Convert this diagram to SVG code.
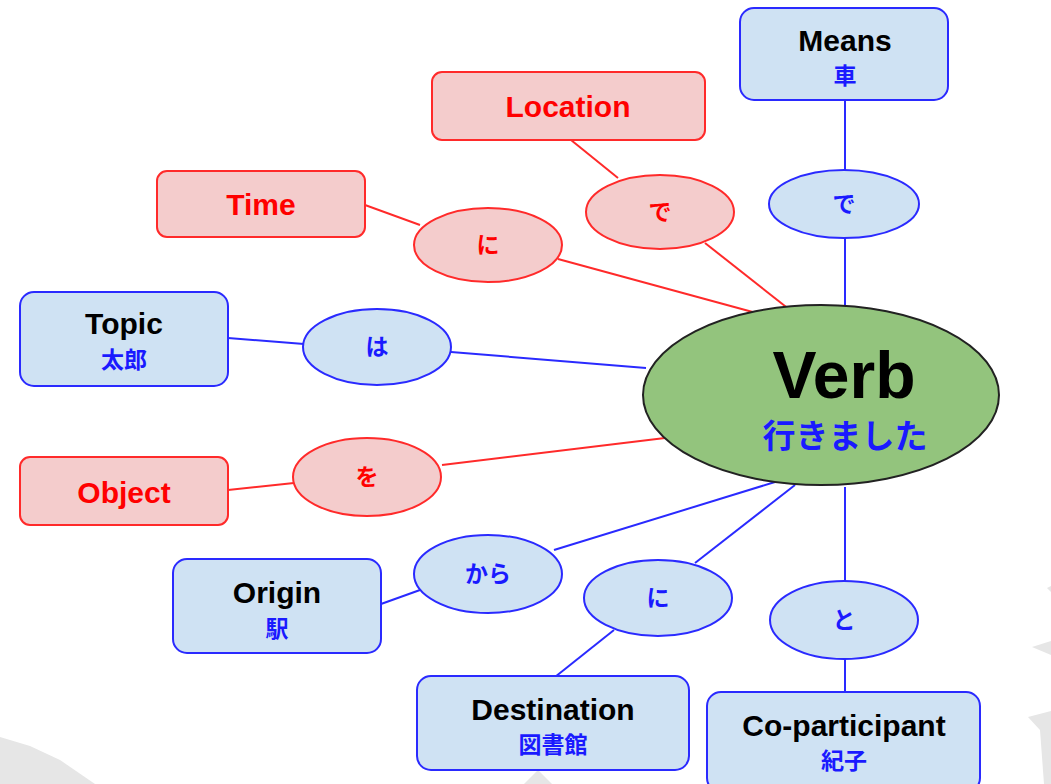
<svg xmlns="http://www.w3.org/2000/svg" width="1051" height="784" viewBox="0 0 1051 784">
  <style>
    .bbox { fill: #cfe2f3; stroke: #2a2aff; stroke-width: 2; }
    .rbox { fill: #f4cccc; stroke: #ff2a2a; stroke-width: 2; }
    .bline { stroke: #2a2aff; stroke-width: 2; fill: none; }
    .rline { stroke: #ff2a2a; stroke-width: 2; fill: none; }
    .title { font-family: "Liberation Sans", Arial, sans-serif; font-weight: bold; font-size: 30px; text-anchor: middle; fill: #000; }
    .rtitle { font-family: "Liberation Sans", Arial, sans-serif; font-weight: bold; font-size: 30px; text-anchor: middle; fill: #ff0000; }
    .jp { font-family: "Liberation Sans", "Noto Sans CJK JP", sans-serif; font-weight: bold; font-size: 23px; text-anchor: middle; fill: #1a1aff; }
    .rjp { font-family: "Liberation Sans", "Noto Sans CJK JP", sans-serif; font-weight: bold; font-size: 23px; text-anchor: middle; fill: #ff0000; }
    .wm { fill: #e6e6e6; }
  </style>

  <rect width="1051" height="784" fill="#ffffff"/>

  <!-- faint background shapes -->
  <g id="background">
    <polygon class="wm" points="0,737 30,746 60,760 95,784 0,784"/>
    <polygon class="wm" points="524,784 538,770 552,784"/>
    <polygon class="wm" points="1047,588 1051,586 1051,592"/>
    <polygon class="wm" points="1032,647 1051,641 1051,655"/>
    <polygon class="wm" points="1028,717 1051,711 1051,784 1044,784 1040,730"/>
  </g>

  <!-- connectors -->
  <g id="connectors">
    <line class="bline" x1="845" y1="100" x2="845" y2="170"/>
    <line class="bline" x1="845" y1="238" x2="845" y2="305"/>
    <line class="rline" x1="571" y1="140" x2="618" y2="178"/>
    <line class="rline" x1="705" y1="243" x2="790" y2="310"/>
    <line class="rline" x1="365" y1="205" x2="420" y2="225"/>
    <line class="rline" x1="558" y1="259" x2="760" y2="314"/>
    <line class="bline" x1="228" y1="338" x2="304" y2="344"/>
    <line class="bline" x1="451" y1="352" x2="646" y2="368"/>
    <line class="rline" x1="228" y1="490" x2="294" y2="483"/>
    <line class="rline" x1="442" y1="465" x2="665" y2="438"/>
    <line class="bline" x1="381" y1="604" x2="420" y2="590"/>
    <line class="bline" x1="554" y1="550" x2="775" y2="482"/>
    <line class="bline" x1="695" y1="563" x2="795" y2="485"/>
    <line class="bline" x1="614" y1="630" x2="555" y2="677"/>
    <line class="bline" x1="845" y1="487" x2="845" y2="581"/>
    <line class="bline" x1="845" y1="659" x2="845" y2="692"/>
  </g>

  <!-- central verb -->
  <g id="verb">
    <ellipse cx="821" cy="395" rx="178" ry="90" fill="#93c47d" stroke="#222" stroke-width="2"/>
    <text x="844" y="398" font-family="Liberation Sans, Arial, sans-serif" font-weight="bold" font-size="66" text-anchor="middle" fill="#000">Verb</text>
    <text x="845" y="448" font-family="Liberation Sans, Noto Sans CJK JP, sans-serif" font-weight="bold" font-size="33" text-anchor="middle" fill="#1a1aff">行きました</text>
  </g>

  <!-- Means / で -->
  <g id="means">
    <rect class="bbox" x="740" y="8" width="208" height="92" rx="14"/>
    <text class="title" x="845" y="51">Means</text>
    <text class="jp" x="845" y="84">車</text>
  </g>
  <g id="p-de-means">
    <ellipse class="bbox" cx="844" cy="204" rx="75" ry="34"/>
    <text class="jp" x="844" y="212">で</text>
  </g>

  <!-- Location / で -->
  <g id="location">
    <rect class="rbox" x="432" y="72" width="273" height="68" rx="10"/>
    <text class="rtitle" x="568" y="117">Location</text>
  </g>
  <g id="p-de-location">
    <ellipse class="rbox" cx="660" cy="212" rx="74" ry="37"/>
    <text class="rjp" x="660" y="220">で</text>
  </g>

  <!-- Time / に -->
  <g id="time">
    <rect class="rbox" x="157" y="171" width="208" height="66" rx="10"/>
    <text class="rtitle" x="261" y="215">Time</text>
  </g>
  <g id="p-ni-time">
    <ellipse class="rbox" cx="488" cy="245" rx="74" ry="37"/>
    <text class="rjp" x="488" y="253">に</text>
  </g>

  <!-- Topic / は -->
  <g id="topic">
    <rect class="bbox" x="20" y="292" width="208" height="94" rx="14"/>
    <text class="title" x="124" y="334">Topic</text>
    <text class="jp" x="124" y="368">太郎</text>
  </g>
  <g id="p-wa">
    <ellipse class="bbox" cx="377" cy="347" rx="74" ry="38"/>
    <text class="jp" x="377" y="355">は</text>
  </g>

  <!-- Object / を -->
  <g id="object">
    <rect class="rbox" x="20" y="457" width="208" height="68" rx="10"/>
    <text class="rtitle" x="124" y="503">Object</text>
  </g>
  <g id="p-wo">
    <ellipse class="rbox" cx="367" cy="477" rx="74" ry="39"/>
    <text class="rjp" x="367" y="485">を</text>
  </g>

  <!-- Origin / から -->
  <g id="origin">
    <rect class="bbox" x="173" y="559" width="208" height="94" rx="14"/>
    <text class="title" x="277" y="603">Origin</text>
    <text class="jp" x="277" y="637">駅</text>
  </g>
  <g id="p-kara">
    <ellipse class="bbox" cx="488" cy="574" rx="74" ry="39"/>
    <text class="jp" x="488" y="582">から</text>
  </g>

  <!-- Destination / に -->
  <g id="destination">
    <rect class="bbox" x="417" y="676" width="272" height="94" rx="14"/>
    <text class="title" x="553" y="720">Destination</text>
    <text class="jp" x="553" y="753">図書館</text>
  </g>
  <g id="p-ni-dest">
    <ellipse class="bbox" cx="658" cy="598" rx="74" ry="38"/>
    <text class="jp" x="658" y="606">に</text>
  </g>

  <!-- Co-participant / と -->
  <g id="coparticipant">
    <rect class="bbox" x="707" y="692" width="273" height="100" rx="14"/>
    <text class="title" x="844" y="736">Co-participant</text>
    <text class="jp" x="844" y="769">紀子</text>
  </g>
  <g id="p-to">
    <ellipse class="bbox" cx="844" cy="620" rx="74" ry="39"/>
    <text class="jp" x="844" y="628">と</text>
  </g>
</svg>
